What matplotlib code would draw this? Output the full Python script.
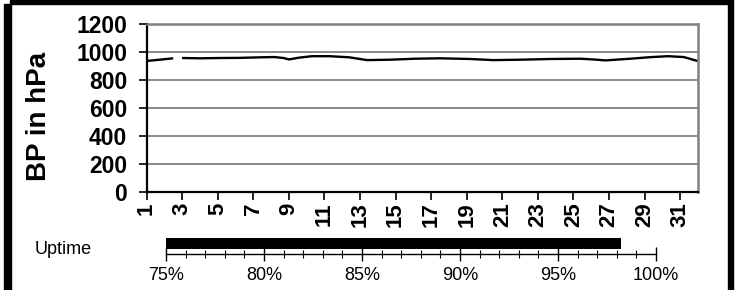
import numpy as np
import matplotlib
matplotlib.use("Agg")
import matplotlib.pyplot as plt
from matplotlib.patches import Rectangle
from matplotlib.ticker import MultipleLocator

plt.rcParams['font.family'] = ['Liberation Sans', 'DejaVu Sans']

# ---- data ----
days = [1.0, 1.75, 2.5, 2.75, 3.0, 4.0, 5.1, 6.2, 7.4, 8.2, 8.7, 9.0, 9.6, 10.3, 11.3,
        12.4, 13.0, 13.4, 14.7, 16.1, 17.5, 19.2, 20.5, 22.0, 23.7, 25.4, 26.2, 26.8, 28.2,
        29.3, 30.3, 31.2, 32.0]
bp = [936, 945, 955, np.nan, 957, 955, 957, 958, 962, 964, 957, 947, 960, 970, 970,
      962, 950, 942, 945, 952, 955, 950, 942, 945, 950, 952, 946, 940, 952,
      963, 970, 964, 935]
x_ticks = list(range(1, 32, 2))
y_ticks = [0, 200, 400, 600, 800, 1000, 1200]
uptime_pct = 98.2
uptime_ticks = [75, 80, 85, 90, 95, 100]
uptime_labels = ["75%", "80%", "85%", "90%", "95%", "100%"]

W, H = 736, 290
fig = plt.figure(figsize=(W / 100, H / 100), dpi=100)

def fx(px):
    return px / W

def fy(py):
    return 1 - py / H

# ---- main axes ----
ax = fig.add_axes([fx(146.5), fy(192), fx(698 - 146.5), (192 - 24) / H])
ax.plot(days, bp, color='black', lw=1.7, solid_capstyle='butt', solid_joinstyle='round')
ax.set_xlim(1, 32)
ax.set_ylim(0, 1200)
ax.set_yticks(y_ticks)
ax.set_xticks(x_ticks)
ax.set_yticklabels([str(v) for v in y_ticks], fontsize=16.5, fontweight='bold')
ax.set_xticklabels([str(v) for v in x_ticks], fontsize=16, fontweight='bold', rotation=90)
ax.yaxis.grid(True, color='#808080', lw=1.3)
ax.set_axisbelow(True)
ax.tick_params(axis='y', direction='out', length=6, width=1.2, pad=8)
ax.tick_params(axis='x', direction='out', length=5.5, width=1.2, pad=2)
for side in ['left', 'bottom']:
    ax.spines[side].set_color('black')
    ax.spines[side].set_linewidth(1.6)
for side in ['top', 'right']:
    ax.spines[side].set_color('#808080')
    ax.spines[side].set_linewidth(1.8)

fig.text(fx(39), fy(116), "BP in hPa", rotation=90, ha='center', va='center',
         fontsize=20, fontweight='bold')

# ---- uptime axes ----
ax2 = fig.add_axes([fx(166), fy(254), fx(656 - 166), 16 / H])
ax2.barh([0.66], [uptime_pct - 75], left=75, height=0.68, color='black')
ax2.set_xlim(75, 100)
ax2.set_ylim(0, 1)
for side in ['left', 'top', 'right']:
    ax2.spines[side].set_visible(False)
ax2.spines['bottom'].set_linewidth(1.0)
ax2.set_yticks([])
ax2.set_xticks(uptime_ticks)
ax2.set_xticklabels(uptime_labels, fontsize=13)
ax2.xaxis.set_minor_locator(MultipleLocator(1))
ax2.tick_params(axis='x', which='major', direction='inout', length=10, width=1.0, pad=4)
ax2.tick_params(axis='x', which='minor', direction='inout', length=6, width=0.8)

fig.text(fx(35), fy(250), "Uptime", ha='left', va='center', fontsize=13)

# ---- frame ----
fig.patches.append(Rectangle((fx(10), fy(4)), fx(728 - 10), 4 / H, transform=fig.transFigure,
                             color='black', zorder=10))
fig.patches.append(Rectangle((fx(4), 0), fx(7), fy(4), transform=fig.transFigure,
                             color='black', zorder=10))
fig.patches.append(Rectangle((fx(728), 0), fx(5), 1, transform=fig.transFigure,
                             color='black', zorder=10))

fig.savefig("out.png", dpi=100)
